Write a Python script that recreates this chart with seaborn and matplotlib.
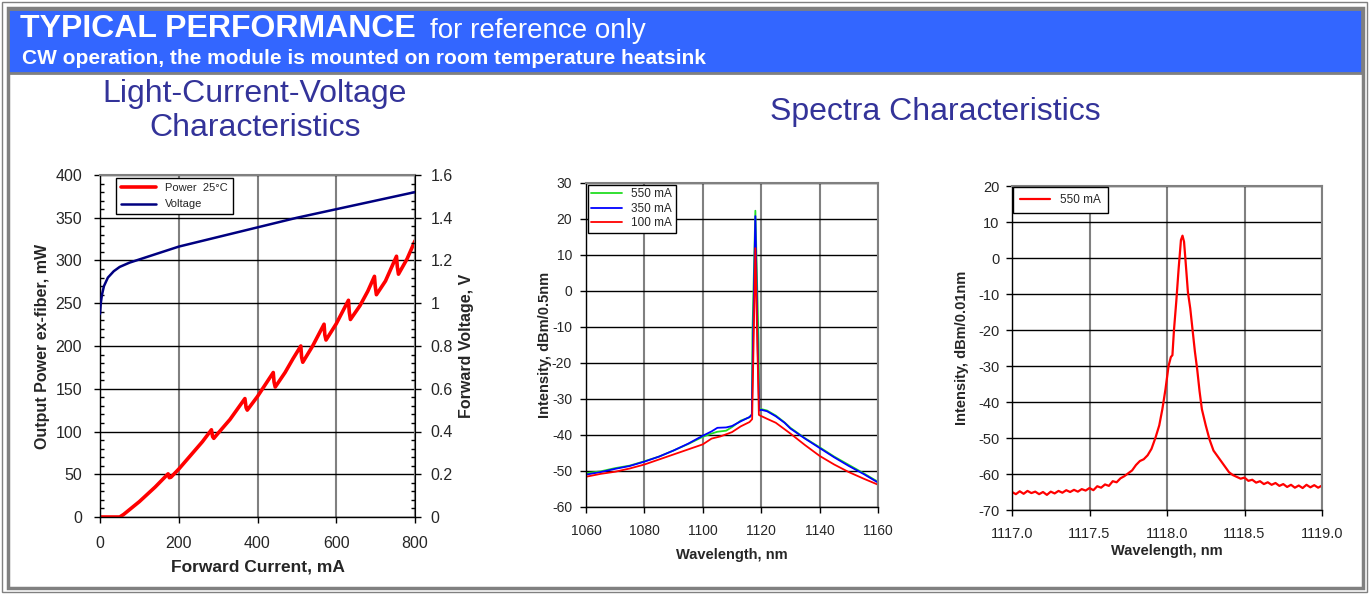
import matplotlib
matplotlib.use("Agg")
import matplotlib.pyplot as plt
from matplotlib.patches import Rectangle
from matplotlib.ticker import MultipleLocator, FuncFormatter, FormatStrFormatter
import seaborn as sns

# ---- data ----
# L-I-V: power (mW) vs forward current (mA)
current_mA = [0, 50, 60, 100, 140, 173, 176, 180, 200, 230, 260, 283, 286, 289, 300, 330,
              368, 371, 374, 400, 420, 440, 442, 445, 470, 490, 510, 512, 515, 540, 569,
              571, 574, 600, 631, 633, 636, 660, 680, 697, 699, 702, 725, 753, 755, 758, 780, 800]
power_mW = [0, 0, 3, 18, 35, 50.5, 46, 46.5, 56, 72, 88, 102, 94, 92, 98, 114,
            138.5, 128, 125, 141, 155, 169, 158, 152, 169, 185, 200, 187, 181, 200, 225.5,
            213, 207, 226, 253.5, 240, 231, 247, 264, 281.5, 270, 260, 276, 305, 293, 284, 302, 323]

# voltage (V) vs forward current (mA)
volt_current = [0, 2, 5, 10, 20, 35, 50, 75, 100, 150, 200, 300, 400, 500, 600, 700, 800]
voltage_V = [0.95, 1.0, 1.04, 1.08, 1.12, 1.15, 1.17, 1.19, 1.205, 1.235, 1.265, 1.31,
             1.355, 1.40, 1.44, 1.48, 1.52]

# broad spectra, dBm/0.5nm
wl_550 = [1060, 1065, 1070, 1075, 1080, 1085, 1090, 1095, 1100, 1103, 1105, 1108, 1110, 1113,
          1116, 1116.8, 1117.0, 1118.0, 1119.1, 1119.3, 1120, 1122, 1125, 1128, 1130, 1135,
          1140, 1145, 1150, 1155, 1160]
db_550 = [-50.6, -50.1, -49.2, -48.5, -47.3, -46.0, -44.3, -42.5, -40.5, -39.6, -39.1, -38.8,
          -37.8, -36.0, -35.1, -34.2, -11.8, 22.3, -14.5, -33.0, -32.8, -33.2, -34.6, -36.5,
          -38.0, -40.9, -43.4, -46.0, -48.3, -50.6, -53.0]

wl_350 = [1060, 1065, 1070, 1075, 1080, 1085, 1090, 1095, 1100, 1103, 1105, 1108, 1110, 1113,
          1116, 1116.8, 1117.2, 1118.0, 1118.8, 1119.3, 1120, 1122, 1125, 1128, 1130, 1135,
          1140, 1145, 1150, 1155, 1160]
db_350 = [-51.0, -50.3, -49.4, -48.6, -47.4, -46.0, -44.3, -42.4, -40.2, -39.0, -38.0, -37.9,
          -37.5, -36.2, -35.0, -34.4, -14.0, 20.8, -16.0, -33.2, -33.0, -33.4, -34.8, -36.6,
          -38.2, -41.0, -43.6, -46.2, -48.6, -50.8, -53.2]

wl_100 = [1060, 1065, 1070, 1075, 1080, 1085, 1090, 1095, 1100, 1103, 1106, 1110, 1113, 1116,
          1116.9, 1117.5, 1118.0, 1118.5, 1119.2, 1119.6, 1120.7, 1122, 1125, 1130, 1135,
          1140, 1145, 1150, 1155, 1160]
db_100 = [-51.6, -50.8, -50.2, -49.3, -48.2, -46.8, -45.4, -44.0, -42.6, -41.0, -40.4, -39.2,
          -37.6, -36.4, -35.6, -10.0, 11.9, -8.0, -34.4, -34.6, -35.0, -35.5, -36.6, -39.6,
          -42.8, -45.8, -48.2, -50.3, -52.1, -53.8]

# high resolution spectrum, dBm/0.01nm at 550 mA
wl_hr = [1117.000, 1117.025, 1117.050, 1117.075, 1117.100, 1117.125, 1117.150, 1117.175,
         1117.200, 1117.225, 1117.250, 1117.275, 1117.300, 1117.325, 1117.350, 1117.375,
         1117.400, 1117.425, 1117.450, 1117.475, 1117.500, 1117.525, 1117.550, 1117.575,
         1117.600, 1117.625, 1117.650, 1117.675, 1117.700, 1117.725, 1117.750, 1117.775,
         1117.800, 1117.825, 1117.850, 1117.875, 1117.900, 1117.925, 1117.950, 1117.970,
         1117.990, 1118.010, 1118.025, 1118.035, 1118.045, 1118.060, 1118.075, 1118.090,
         1118.100, 1118.110, 1118.120, 1118.135, 1118.150, 1118.165, 1118.180, 1118.195,
         1118.210, 1118.225, 1118.250, 1118.275, 1118.300, 1118.325, 1118.350, 1118.375,
         1118.400, 1118.425, 1118.450, 1118.475, 1118.500, 1118.525, 1118.550, 1118.575,
         1118.600, 1118.625, 1118.650, 1118.675, 1118.700, 1118.725, 1118.750, 1118.775,
         1118.800, 1118.825, 1118.850, 1118.875, 1118.900, 1118.925, 1118.950, 1118.975,
         1119.000]
db_hr = [-65.0, -65.6, -64.8, -65.5, -64.7, -65.3, -64.9, -65.6,
         -65.0, -65.8, -64.9, -65.4, -64.7, -65.2, -64.5, -65.0,
         -64.4, -64.9, -64.2, -64.6, -63.9, -64.5, -63.4, -63.8,
         -62.9, -63.3, -62.0, -62.3, -61.2, -60.6, -59.8, -59.0,
         -57.5, -56.4, -55.9, -54.8, -53.0, -50.0, -46.5, -42.0,
         -36.5, -30.0, -27.5, -27.0, -20.0, -12.0, -3.0, 5.0,
         6.2, 4.5, -1.0, -9.5, -14.0, -20.0, -26.0, -31.0,
         -37.0, -42.0, -46.5, -50.5, -53.5, -55.0, -56.5, -58.0,
         -59.5, -60.3, -60.8, -61.3, -61.0, -61.9, -61.6, -62.4,
         -62.0, -62.8, -62.3, -63.0, -62.5, -63.3, -62.8, -63.6,
         -63.0, -63.8, -63.2, -63.9, -63.0, -63.7, -63.1, -63.8,
         -63.2]

# ---- figure ----
sns.set_style("white")
plt.rcParams['font.family'] = ['Liberation Sans', 'DejaVu Sans']
plt.rcParams['axes.unicode_minus'] = False

W, H = 1369, 594
fig = plt.figure(figsize=(W / 100, H / 100), dpi=100)


def px(l, t, r, b):
    return [l / W, 1 - b / H, (r - l) / W, (b - t) / H]


GRAY = '#808080'
TITLE = '#333399'

# frames and banner
fig.patches.append(Rectangle((2 / W, 2 / H), 1365 / W, 590 / H, transform=fig.transFigure,
                             fill=False, edgecolor=GRAY, lw=1))
fig.patches.append(Rectangle((7.5 / W, 6 / H), 1355 / W, 580 / H, transform=fig.transFigure,
                             fill=False, edgecolor=GRAY, lw=2.5))
fig.patches.append(Rectangle((8 / W, 1 - 73 / H), 1354 / W, 64 / H, transform=fig.transFigure,
                             facecolor='#3366FF', edgecolor=GRAY, lw=2))

fig.text(20 / W, 1 - 29 / H, 'TYPICAL PERFORMANCE', color='white', fontsize=23,
         fontweight='bold', va='center', ha='left')
fig.text(430 / W, 1 - 31 / H, 'for reference only', color='white', fontsize=20,
         va='center', ha='left')
fig.text(22 / W, 1 - 59 / H, 'CW operation, the module is mounted on room temperature heatsink',
         color='white', fontsize=15, fontweight='bold', va='center', ha='left')

fig.text(255 / W, 1 - 111 / H, 'Light-Current-Voltage\nCharacteristics', color=TITLE,
         fontsize=23, ha='center', va='center', linespacing=1.15)
fig.text(935 / W, 1 - 112 / H, 'Spectra Characteristics', color=TITLE,
         fontsize=23, ha='center', va='center')


def style_axes(ax, size):
    ax.set_axisbelow(True)
    ax.grid(True, axis='y', color='black', lw=1)
    ax.grid(True, axis='x', color=GRAY, lw=1.5)
    for s in ['left', 'bottom']:
        ax.spines[s].set_color('black')
        ax.spines[s].set_linewidth(1)
    for s in ['top', 'right']:
        ax.spines[s].set_color(GRAY)
        ax.spines[s].set_linewidth(1.5)
    ax.tick_params(which='major', direction='out', length=4, width=1, color='black',
                   labelsize=size, left=True, bottom=True)
    ax.tick_params(which='minor', direction='in', length=3, width=1, color='black')


# ---- chart 1: L-I-V ----
ax1 = fig.add_axes(px(100, 175, 415, 517))
sns.lineplot(x=current_mA, y=power_mW, ax=ax1, color='#FF0000', lw=2.6,
             estimator=None, sort=False, legend=False)
ax1.set_xlim(0, 800)
ax1.set_ylim(0, 400)
style_axes(ax1, 11.5)
ax1.xaxis.set_major_locator(MultipleLocator(200))
ax1.xaxis.set_minor_locator(MultipleLocator(50))
ax1.yaxis.set_major_locator(MultipleLocator(50))
ax1.yaxis.set_minor_locator(MultipleLocator(10))
ax1.tick_params(axis='x', which='major', pad=9.5)
ax1.tick_params(axis='y', which='major', pad=9)
ax1.set_xlabel('Forward Current, mA', fontsize=12.5, fontweight='bold')
ax1.set_ylabel('Output Power ex-fiber, mW', fontsize=11.5, fontweight='bold')
ax1.xaxis.set_label_coords(0.5, -0.125)
ax1.yaxis.set_label_coords(-0.158, 0.5)

ax1b = ax1.twinx()
sns.lineplot(x=volt_current, y=voltage_V, ax=ax1b, color='#000080', lw=1.8,
             estimator=None, sort=False, legend=False)
ax1b.set_ylim(0, 1.6)
ax1b.yaxis.set_major_locator(MultipleLocator(0.2))
ax1b.yaxis.set_minor_locator(MultipleLocator(0.04))
ax1b.yaxis.set_major_formatter(FuncFormatter(lambda v, p: '%g' % round(v, 2)))
ax1b.grid(False)
for s in ax1b.spines.values():
    s.set_visible(False)
ax1b.spines['right'].set_visible(True)
ax1b.spines['right'].set_color('black')
ax1b.tick_params(which='major', direction='out', length=4, width=1, color='black',
                 labelsize=11.5, right=True, pad=7)
ax1b.tick_params(which='minor', direction='in', length=3, width=1, color='black', right=True)
ax1b.set_ylabel('Forward Voltage, V', fontsize=11.5, fontweight='bold')
ax1b.yaxis.set_label_coords(1.14, 0.5)

h1 = ax1.get_lines()[0]
h2 = ax1b.get_lines()[0]
leg = ax1b.legend([h1, h2], ['Power  25°C', 'Voltage'], loc='upper left',
                  bbox_to_anchor=(0.04, 1.0), borderaxespad=0.3, fontsize=8, frameon=True,
                  fancybox=False, edgecolor='black', framealpha=1, handlelength=3.2,
                  borderpad=0.45, labelspacing=0.55)
leg.get_frame().set_linewidth(1)

# ---- chart 2: spectra ----
ax2 = fig.add_axes(px(586, 183, 878, 507))
sns.lineplot(x=wl_550, y=db_550, ax=ax2, color='#22DD22', lw=1.3, estimator=None,
             sort=False, legend=False, label='550 mA')
sns.lineplot(x=wl_350, y=db_350, ax=ax2, color='#0000FF', lw=1.3, estimator=None,
             sort=False, legend=False, label='350 mA')
sns.lineplot(x=wl_100, y=db_100, ax=ax2, color='#FF0000', lw=1.3, estimator=None,
             sort=False, legend=False, label='100 mA')
ax2.set_xlim(1060, 1160)
ax2.set_ylim(-60, 30)
style_axes(ax2, 10)
ax2.xaxis.set_major_locator(MultipleLocator(20))
ax2.xaxis.set_minor_locator(MultipleLocator(4))
ax2.yaxis.set_major_locator(MultipleLocator(10))
ax2.yaxis.set_minor_locator(MultipleLocator(2))
ax2.tick_params(axis='x', which='major', pad=8)
ax2.tick_params(axis='y', which='major', pad=6)
ax2.set_xlabel('Wavelength, nm', fontsize=10.5, fontweight='bold')
ax2.set_ylabel('Intensity, dBm/0.5nm', fontsize=10.5, fontweight='bold')
ax2.xaxis.set_label_coords(0.5, -0.125)
ax2.yaxis.set_label_coords(-0.115, 0.5)
leg2 = ax2.legend(loc='upper left', bbox_to_anchor=(0.0, 1.0), borderaxespad=0.15,
                  fontsize=8.5, frameon=True, fancybox=False, edgecolor='black',
                  framealpha=1, handlelength=2.6, borderpad=0.3, labelspacing=0.2)
leg2.get_frame().set_linewidth(1)

# ---- chart 3: high-resolution spectrum ----
ax3 = fig.add_axes(px(1012, 186, 1322, 510))
sns.lineplot(x=wl_hr, y=db_hr, ax=ax3, color='#FF0000', lw=1.6, estimator=None,
             sort=False, legend=False, label='550 mA')
ax3.set_xlim(1117.0, 1119.0)
ax3.set_ylim(-70, 20)
style_axes(ax3, 10.5)
ax3.xaxis.set_major_locator(MultipleLocator(0.5))
ax3.xaxis.set_minor_locator(MultipleLocator(0.1))
ax3.xaxis.set_major_formatter(FormatStrFormatter('%.1f'))
ax3.yaxis.set_major_locator(MultipleLocator(10))
ax3.tick_params(axis='x', which='major', pad=8.5)
ax3.tick_params(axis='y', which='major', pad=5)
ax3.set_xlabel('Wavelength, nm', fontsize=10.5, fontweight='bold')
ax3.set_ylabel('Intensity, dBm/0.01nm', fontsize=10.5, fontweight='bold')
ax3.xaxis.set_label_coords(0.5, -0.105)
ax3.yaxis.set_label_coords(-0.14, 0.5)
leg3 = ax3.legend(loc='upper left', bbox_to_anchor=(0.0, 1.0), borderaxespad=0.05,
                  fontsize=8.5, frameon=True, fancybox=False, edgecolor='black',
                  framealpha=1, handlelength=2.6, borderpad=0.6)
leg3.get_frame().set_linewidth(1)

fig.savefig('out.png', dpi=100)
plt.close(fig)
